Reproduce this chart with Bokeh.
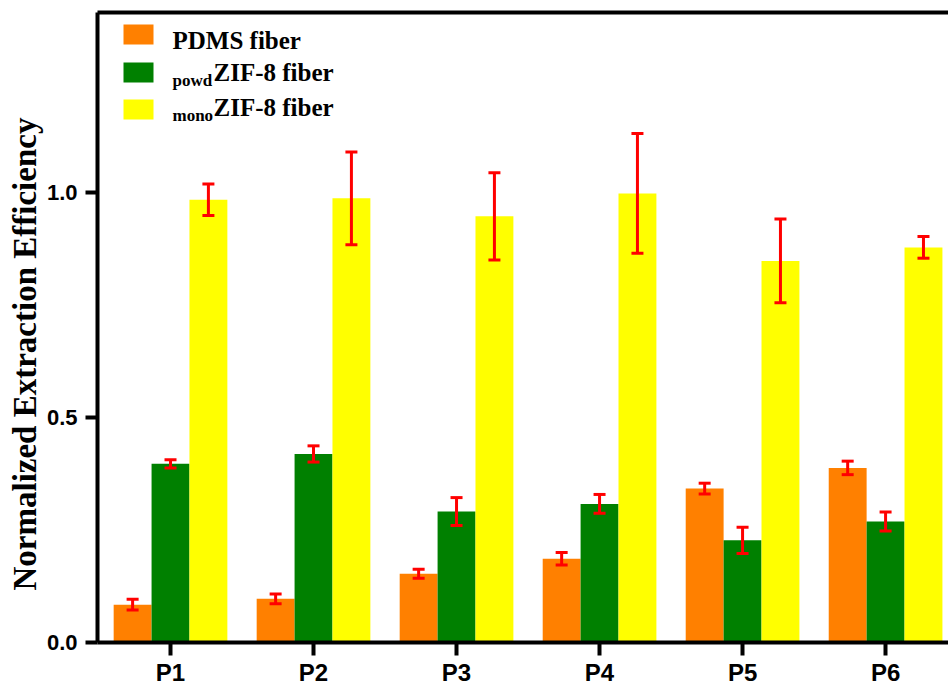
import numpy as np
from bokeh.plotting import figure
from bokeh.models import (ColumnDataSource, Range1d, FixedTicker, LinearAxis,
                          Whisker, TeeHead, Label, Title)
from bokeh.embed import file_html
from bokeh.resources import INLINE

# ---- data -------------------------------------------------------------
categories = ["P1", "P2", "P3", "P4", "P5", "P6"]
pdms = [0.084, 0.097, 0.153, 0.186, 0.342, 0.388]
pdms_err = [0.012, 0.011, 0.010, 0.014, 0.012, 0.015]
powd = [0.397, 0.419, 0.291, 0.308, 0.227, 0.269]
powd_err = [0.009, 0.018, 0.031, 0.021, 0.029, 0.021]
mono = [0.984, 0.987, 0.947, 0.998, 0.848, 0.878]
mono_err = [0.035, 0.103, 0.097, 0.133, 0.093, 0.024]
y_ticks = [0.0, 0.5, 1.0]

# ---- layout -----------------------------------------------------------
W, H = 948, 688
FRAME_L, FRAME_R, FRAME_T, FRAME_B = 97, 948, 12, 642
X0, X1 = 0.4895, 6.44
Y0, Y1 = 0.0, 1.4
BAR_W = 0.265

ORANGE, GREEN, YELLOW, RED = "#FF8000", "#008000", "#FFFF00", "#FF0000"
SERIF = "Liberation Serif"
SANS = "Liberation Sans"


def px_x(px):
    return X0 + (px - FRAME_L) * (X1 - X0) / (FRAME_R - FRAME_L)


def px_y(py):
    return Y1 - (py - FRAME_T) * (Y1 - Y0) / (FRAME_B - FRAME_T)


p = figure(width=W, height=H, output_backend="svg", toolbar_location=None,
           x_range=Range1d(X0, X1), y_range=Range1d(Y0, Y1),
           min_border_left=FRAME_L, min_border_right=0,
           min_border_top=FRAME_T, min_border_bottom=H - FRAME_B)
p.outline_line_color = None
p.grid.visible = False
p.background_fill_color = "white"

xc = np.arange(1, len(categories) + 1, dtype=float)

series = [
    (pdms, pdms_err, ORANGE, -BAR_W),
    (powd, powd_err, GREEN, 0.0),
    (mono, mono_err, YELLOW, BAR_W),
]

for vals, errs, color, off in series:
    v = np.array(vals)
    e = np.array(errs)
    src = ColumnDataSource(dict(x=xc + off, top=v, upper=v + e, lower=v - e))
    p.vbar(x="x", top="top", bottom=0, width=BAR_W, source=src,
           fill_color=color, line_color=None)
    w = Whisker(base="x", upper="upper", lower="lower", source=src,
                line_color=RED, line_width=3, level="overlay",
                upper_head=TeeHead(size=12, line_color=RED, line_width=3),
                lower_head=TeeHead(size=12, line_color=RED, line_width=3))
    p.add_layout(w)

# ---- axes -------------------------------------------------------------
xa = p.xaxis[0]
xa.ticker = FixedTicker(ticks=list(xc))
xa.major_label_overrides = {int(i): c for i, c in zip(xc, categories)}
ya = p.yaxis[0]
ya.ticker = FixedTicker(ticks=y_ticks)
ya.major_label_overrides = {t: f"{t:.1f}" for t in y_ticks}

for ax in (xa, ya):
    ax.axis_line_width = 4
    ax.axis_line_color = "black"
    ax.major_tick_line_width = 4
    ax.major_tick_in = 0
    ax.minor_tick_line_color = None
    ax.major_label_text_font = SANS
    ax.major_label_text_font_style = "bold"
    ax.major_label_text_color = "black"
xa.major_tick_out = 13
xa.major_label_standoff = 3
xa.major_label_text_font_size = "24px"
ya.major_tick_out = 12
ya.major_label_standoff = 8
ya.major_label_text_font_size = "22px"

# top border line
top = LinearAxis(ticker=FixedTicker(ticks=[]), axis_line_width=4,
                 major_tick_out=0, major_tick_in=0, minor_tick_out=0,
                 major_label_standoff=0, major_label_text_font_size="0px")
p.add_layout(top, "above")

# y axis title
ytitle = Title(text="Normalized Extraction Efficiency", align="left", offset=52,
               standoff=2, text_font=SERIF, text_font_style="bold",
               text_font_size="33px", text_color="black")
p.add_layout(ytitle, "left")

# ---- legend -----------------------------------------------------------
leg_colors = [ORANGE, GREEN, YELLOW]
sq_y = [34, 72, 109]
p.rect(x=[px_x(138)] * 3, y=[px_y(v) for v in sq_y], width=30, height=20,
       width_units="screen", height_units="screen",
       fill_color=leg_colors, line_color=None)

TXT_X = 172
main_mid = [40, 72, 107]
sub_mid = [None, 80, 115]
subs = ["", "powd", "mono"]
mains = ["PDMS fiber", "ZIF-8 fiber", "ZIF-8 fiber"]
for sub, main, mid, smid in zip(subs, mains, main_mid, sub_mid):
    mx = TXT_X
    if sub:
        p.add_layout(Label(x=px_x(TXT_X), y=px_y(smid), text=sub,
                           text_align="left", text_baseline="middle",
                           text_font=SERIF, text_font_style="bold",
                           text_font_size="17px", text_color="black"))
        mx = TXT_X + 41
    p.add_layout(Label(x=px_x(mx), y=px_y(mid), text=main,
                       text_align="left", text_baseline="middle",
                       text_font=SERIF, text_font_style="bold",
                       text_font_size="25px", text_color="black"))

open("out.html", "w").write(file_html(p, INLINE))
